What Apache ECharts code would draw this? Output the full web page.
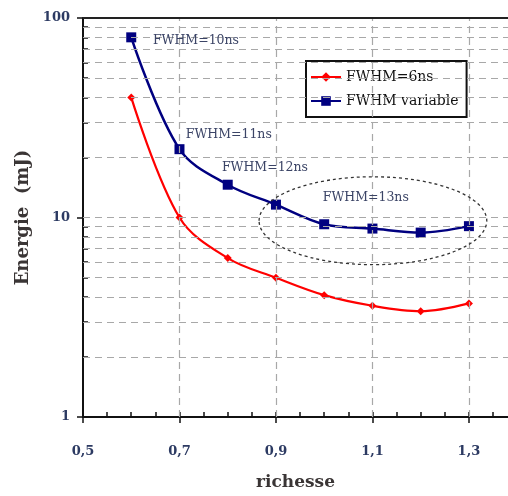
<!DOCTYPE html>
<html>
<head>
<meta charset="utf-8">
<script src="https://cdn.jsdelivr.net/npm/echarts@6/dist/echarts.min.js"></script>
<style>html,body{margin:0;padding:0;background:#fff;}#c{width:508px;height:496px;}</style>
</head>
<body>
<div id="c"></div>
<script>
// ---- data ----
const richesse = [0.6, 0.7, 0.8, 0.9, 1.0, 1.1, 1.2, 1.3];
const energie6ns = [40, 10, 6.26, 4.99, 4.08, 3.61, 3.39, 3.71];
const energieVariable = [80, 22, 14.6, 11.6, 9.25, 8.8, 8.4, 9.05];
const seriesNames = ['FWHM=6ns', 'FWHM variable'];
const xTickLabels = [0.5, 0.7, 0.9, 1.1, 1.3];
const xGridValues = [0.7, 0.9, 1.1, 1.3];
const xMinorTicks = [0.55, 0.6, 0.65, 0.7, 0.75, 0.8, 0.85, 0.9, 0.95, 1.0, 1.05, 1.1, 1.15, 1.2, 1.25, 1.3, 1.35];
const yTickLabels = [1, 10, 100];
const yGridValues = [2, 3, 4, 5, 6, 7, 8, 9, 10, 20, 30, 40, 50, 60, 70, 80, 90];
const yMinorTicks = [2, 3, 4, 5, 6, 7, 8, 9, 20, 30, 40, 50, 60, 70, 80, 90];
const annotationTexts = ['FWHM=10ns', 'FWHM=11ns', 'FWHM=12ns', 'FWHM=13ns'];
const annotationAnchors = [[0.645, 76.9], [0.713, 26.1], [0.788, 17.8], [0.997, 12.6]];
const ellipseBox = [[0.865, 16], [1.337, 5.8]];

const chart = echarts.init(document.getElementById('c'), null, {renderer: 'canvas'});
const labelColor = '#2c3a62';
const serifBold = {fontFamily: 'DejaVu Serif', fontWeight: 'bold'};
const xMax = 1.381;

const option = {
  animation: false,
  backgroundColor: '#fff',
  grid: {left: 83, right: 0, top: 18, bottom: 73, show: false},
  legend: {
    data: seriesNames,
    orient: 'vertical',
    left: 306, top: 61,
    padding: [9, 8, 9, 4],
    itemGap: 10,
    itemWidth: 30, itemHeight: 12,
    backgroundColor: '#fff',
    borderColor: '#111', borderWidth: 2,
    textStyle: {fontFamily: 'DejaVu Serif', fontSize: 14, color: '#111'}
  },
  xAxis: [{
    type: 'value', min: 0.5, max: xMax,
    name: 'richesse', nameLocation: 'middle', nameGap: 57,
    nameTextStyle: Object.assign({fontSize: 17, color: '#3a3535'}, serifBold),
    axisLine: {onZero: false, lineStyle: {color: '#111', width: 2}},
    axisTick: {show: true, inside: false, length: 6, lineStyle: {color: '#111', width: 1.5}, customValues: xTickLabels},
    axisLabel: Object.assign({fontSize: 13, color: labelColor, margin: 28, customValues: xTickLabels,
      formatter: v => String(Math.round(v * 10) / 10).replace('.', ',')}, serifBold),
    splitLine: {show: false},
    minorSplitLine: {show: false}
  }, {
    type: 'value', min: 0.5, max: xMax, position: 'bottom',
    axisLine: {show: false, onZero: false},
    axisTick: {show: true, inside: true, length: 5, lineStyle: {color: '#111', width: 1.5}, customValues: xMinorTicks},
    axisLabel: {show: false},
    splitLine: {show: false},
    minorSplitLine: {show: false}
  }],
  yAxis: [{
    type: 'log', logBase: 10, min: 1, max: 100, splitNumber: 2,
    name: 'Energie  (mJ)', nameLocation: 'middle', nameGap: 51, nameRotate: 90,
    nameTextStyle: Object.assign({fontSize: 18, color: '#3a3535'}, serifBold),
    axisLine: {onZero: false, lineStyle: {color: '#111', width: 2}},
    axisTick: {show: true, inside: false, length: 6, lineStyle: {color: '#111', width: 1.5}, customValues: yTickLabels},
    axisLabel: Object.assign({fontSize: 13, color: labelColor, margin: 13, customValues: yTickLabels}, serifBold),
    splitLine: {show: false}
  }, {
    type: 'log', logBase: 10, min: 1, max: 100, position: 'left',
    axisLine: {show: false, onZero: false},
    axisTick: {show: true, inside: true, length: 5, lineStyle: {color: '#111', width: 1.5}, customValues: yMinorTicks},
    axisLabel: {show: false},
    splitLine: {show: false}
  }],
  series: [{
    name: 'grid', type: 'line', data: [], z: 1, silent: true,
    markLine: {
      silent: true, symbol: ['none', 'none'], animation: false,
      label: {show: false},
      lineStyle: {type: [7, 5], color: '#a8a8a8', width: 1.2},
      data: xGridValues.map(v => ({xAxis: v}))
        .concat(yGridValues.map(v => ({yAxis: v})))
        .concat([{yAxis: 100, lineStyle: {type: 'solid', color: '#222', width: 1.8}}])
    }
  }, {
    name: seriesNames[0], type: 'line', z: 3,
    data: richesse.map((x, i) => [x, energie6ns[i]]),
    smooth: 0.35,
    symbol: 'diamond', symbolSize: 8,
    itemStyle: {color: '#ff0000'},
    lineStyle: {color: '#ff0000', width: 2.2}
  }, {
    name: seriesNames[1], type: 'line', z: 4,
    data: richesse.map((x, i) => [x, energieVariable[i]]),
    smooth: 0.35,
    symbol: 'rect', symbolSize: 10,
    itemStyle: {color: '#000080'},
    lineStyle: {color: '#000080', width: 2.5}
  }]
};
chart.setOption(option);

const toPx = p => chart.convertToPixel({xAxisIndex: 0, yAxisIndex: 0}, p);
const graphics = annotationTexts.map((t, i) => {
  const p = toPx(annotationAnchors[i]);
  return {type: 'text', x: p[0], y: p[1], z: 10,
    style: {text: t, fill: '#3b4466', font: '12.5px "DejaVu Serif"', verticalAlign: 'middle', align: 'left'}};
});
const e0 = toPx(ellipseBox[0]);
const e1 = toPx(ellipseBox[1]);
graphics.push({
  type: 'ellipse', z: 9,
  shape: {cx: (e0[0] + e1[0]) / 2, cy: (e0[1] + e1[1]) / 2, rx: Math.abs(e1[0] - e0[0]) / 2, ry: Math.abs(e1[1] - e0[1]) / 2},
  style: {fill: 'none', stroke: '#333', lineWidth: 1.3, lineDash: [3, 3]}
});
chart.setOption({graphic: graphics});
</script>
</body>
</html>
